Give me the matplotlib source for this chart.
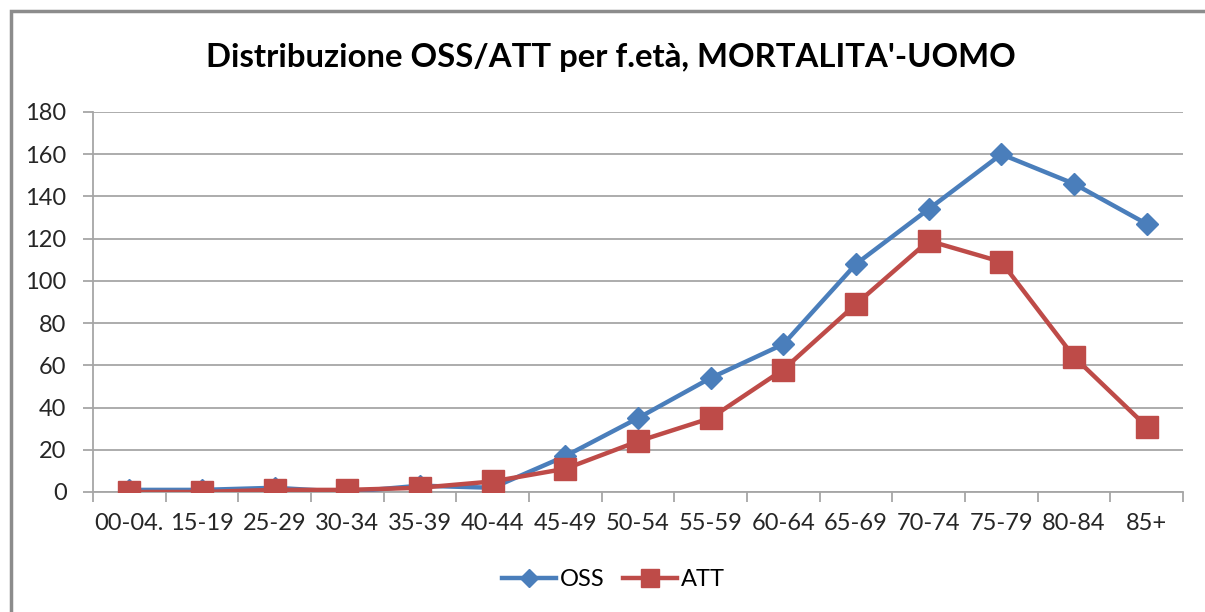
import matplotlib.pyplot as plt
from matplotlib.patches import Rectangle

fasce = ["00-04.", "15-19", "25-29", "30-34", "35-39", "40-44", "45-49", "50-54",
         "55-59", "60-64", "65-69", "70-74", "75-79", "80-84", "85+"]
oss = [1, 1, 2, 0, 3, 2, 17, 35, 54, 70, 108, 134, 160, 146, 127]
att = [0, 0, 1, 1, 2, 5, 11, 24, 35, 58, 89, 119, 109, 64, 31]

plt.rcParams['font.family'] = ['Lato', 'DejaVu Sans']

fig = plt.figure(figsize=(12.05, 6.12), dpi=100)
ax = fig.add_axes([93 / 1205, 1 - 492 / 612, (1183 - 93) / 1205, 380 / 612])

# cornice esterna del grafico
fig.patches.append(Rectangle((11 / 1205, -0.1), 1.2, 1 - 11 / 612 + 0.1, transform=fig.transFigure,
                             fill=False, edgecolor="#8c8c8c", linewidth=2.5))

x = range(len(fasce))
ax.plot(x, oss, color="#4A7EBB", linewidth=3.2, marker="D", markersize=11, label="OSS", zorder=3)
ax.plot(x, att, color="#BE4B48", linewidth=3.2, marker="s", markersize=16, label="ATT", zorder=3)

ax.set_xlim(-0.5, len(fasce) - 0.5)
ax.set_ylim(0, 180)
ax.set_yticks(range(0, 181, 20))
ax.yaxis.grid(True, color="#a6a6a6", linewidth=1.3)
ax.set_axisbelow(True)

ax.set_xticks(list(x))
ax.set_xticklabels(fasce)
ax.set_xticks([i - 0.5 for i in range(len(fasce) + 1)], minor=True)
ax.tick_params(axis="x", which="major", length=0, pad=15, labelsize=17, labelcolor="#262626")
ax.tick_params(axis="x", which="minor", length=7, color="#a6a6a6", width=1.3)
ax.tick_params(axis="y", length=7, color="#a6a6a6", width=1.3, labelsize=17, labelcolor="#262626", pad=12)

for s in ["top", "right"]:
    ax.spines[s].set_visible(False)
for s in ["left", "bottom"]:
    ax.spines[s].set_color("#a6a6a6")
    ax.spines[s].set_linewidth(1.3)

fig.text(0.507, 1 - 58 / 612, "Distribuzione OSS/ATT per f.età, MORTALITA'-UOMO",
         ha="center", va="center", fontsize=23.7, fontweight="bold", color="black")

fig.legend(loc="center", bbox_to_anchor=(0.509, 1 - 580 / 612), ncol=2, frameon=False,
           fontsize=17, handlelength=2.3, columnspacing=0.8, handletextpad=0.15, markerscale=0.8)

fig.savefig("out.png", dpi=100)
